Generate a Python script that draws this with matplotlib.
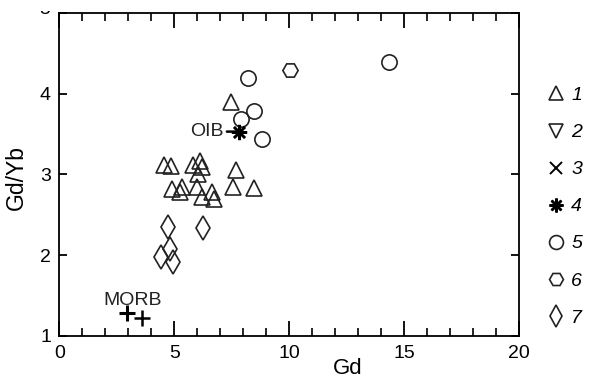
import matplotlib
matplotlib.use("Agg")
import matplotlib.pyplot as plt
from matplotlib.lines import Line2D
from matplotlib.ticker import MultipleLocator
from matplotlib.transforms import Bbox

plt.rcParams['font.family'] = ['Liberation Sans', 'DejaVu Sans']

# ---- data ----
tri_gd = [4.55, 4.84, 5.83, 6.12, 6.19, 6.05, 7.67, 7.45, 4.91, 5.25, 5.35, 5.97, 6.20, 6.63, 6.73, 7.57, 8.48]
tri_ratio = [3.11, 3.10, 3.11, 3.16, 3.09, 3.00, 3.05, 3.90, 2.82, 2.78, 2.84, 2.84, 2.72, 2.78, 2.70, 2.84, 2.83]

circ_gd = [8.19, 8.45, 7.91, 8.83, 14.35]
circ_ratio = [4.20, 3.79, 3.69, 3.44, 4.39]

hex_gd = [10.03]
hex_ratio = [4.29]

dia_gd = [4.74, 6.26, 4.81, 4.41, 4.96]
dia_ratio = [2.35, 2.33, 2.08, 1.98, 1.91]

oib_gd = [7.83]
oib_ratio = [3.53]

morb_gd = [2.93, 3.61]
morb_ratio = [1.28, 1.22]

legend_labels = ['1', '2', '3', '4', '5', '6', '7']
y_ticks = [1, 2, 3, 4, 5]
y_tick_labels = ['1', '2', '3', '4', '']

# ---- figure ----
fig = plt.figure(figsize=(5.93, 3.78), dpi=100)
ax = fig.add_axes([0.100, 0.112, 0.7757, 0.8535])

ec = '#222222'
mk = dict(linestyle='none', markerfacecolor='none', markeredgecolor=ec, markeredgewidth=1.2)

ax.plot(tri_gd, tri_ratio, marker='^', markersize=12, **mk)
ax.plot(circ_gd, circ_ratio, marker='o', markersize=11, **mk)
ax.plot(hex_gd, hex_ratio, marker='H', markersize=11, **mk)
ax.plot(dia_gd, dia_ratio, marker='d', markersize=12, **mk)
ax.plot(oib_gd, oib_ratio, linestyle='none', marker=(8, 2, 0), markersize=11,
        markeredgecolor='black', markeredgewidth=1.8)
ax.plot(morb_gd[:1], morb_ratio[:1], linestyle='none', marker='+', markersize=12,
        markeredgecolor='black', markeredgewidth=2.2)
ax.plot(morb_gd[1:], morb_ratio[1:], linestyle='none', marker='+', markersize=11,
        markeredgecolor='black', markeredgewidth=1.8)

ax.annotate('OIB', xy=(oib_gd[0], oib_ratio[0]), xytext=(-11, 0), textcoords='offset points',
            ha='right', va='center', fontsize=14, color='#222222',
            arrowprops=dict(arrowstyle='-', color='black', lw=1.8, shrinkA=0, shrinkB=0))
ax.annotate('MORB', xy=(morb_gd[0], morb_ratio[0]), xytext=(-17, 6), textcoords='offset points',
            ha='left', va='baseline', fontsize=14, color='#222222')

ax.set_xlim(0, 20)
ax.set_ylim(1, 5)
ax.xaxis.set_major_locator(MultipleLocator(5))
ax.xaxis.set_minor_locator(MultipleLocator(1))
ax.set_yticks(y_ticks, labels=y_tick_labels)

ax.tick_params(axis='x', which='major', direction='in', length=11, width=1.3,
               top=True, labelsize=14, pad=6.5)
ax.tick_params(axis='x', which='minor', direction='in', length=5.5, width=1.2, top=True)
ax.tick_params(axis='y', which='major', direction='in', length=6, width=1.3,
               right=True, labelsize=14, pad=6)
for s in ax.spines.values():
    s.set_linewidth(1.3)

# top "5" label, partially cut by the top edge of the picture
t5 = fig.text(0.0845, 0.975, '5', ha='right', va='center', fontsize=14)
t5.set_clip_on(True)
t5.set_clip_box(Bbox([[0, 0], [593, 378 - 11]]))

ax.set_xlabel('Gd', fontsize=16)
ax.xaxis.set_label_coords(0.628, -0.068)
ax.set_ylabel('Gd/Yb', fontsize=16.5)
ax.yaxis.set_label_coords(-0.068, 0.49)

handles = [
    Line2D([], [], marker='^', markersize=10.5, **mk),
    Line2D([], [], marker='v', markersize=10.5, **mk),
    Line2D([], [], marker='x', markersize=9, linestyle='none', markeredgecolor='black', markeredgewidth=1.4),
    Line2D([], [], marker=(8, 2, 0), markersize=10, linestyle='none', markeredgecolor='black', markeredgewidth=1.8),
    Line2D([], [], marker='o', markersize=10, **mk),
    Line2D([], [], marker='H', markersize=10, **mk),
    Line2D([], [], marker='d', markersize=11, **mk),
]
leg = ax.legend(handles, legend_labels, loc='center left', bbox_to_anchor=(1.02, 0.40),
                frameon=False, handlelength=1.0, handletextpad=0.3, labelspacing=1.0,
                prop={'size': 14, 'style': 'italic'})

fig.savefig('out.png', dpi=100)
